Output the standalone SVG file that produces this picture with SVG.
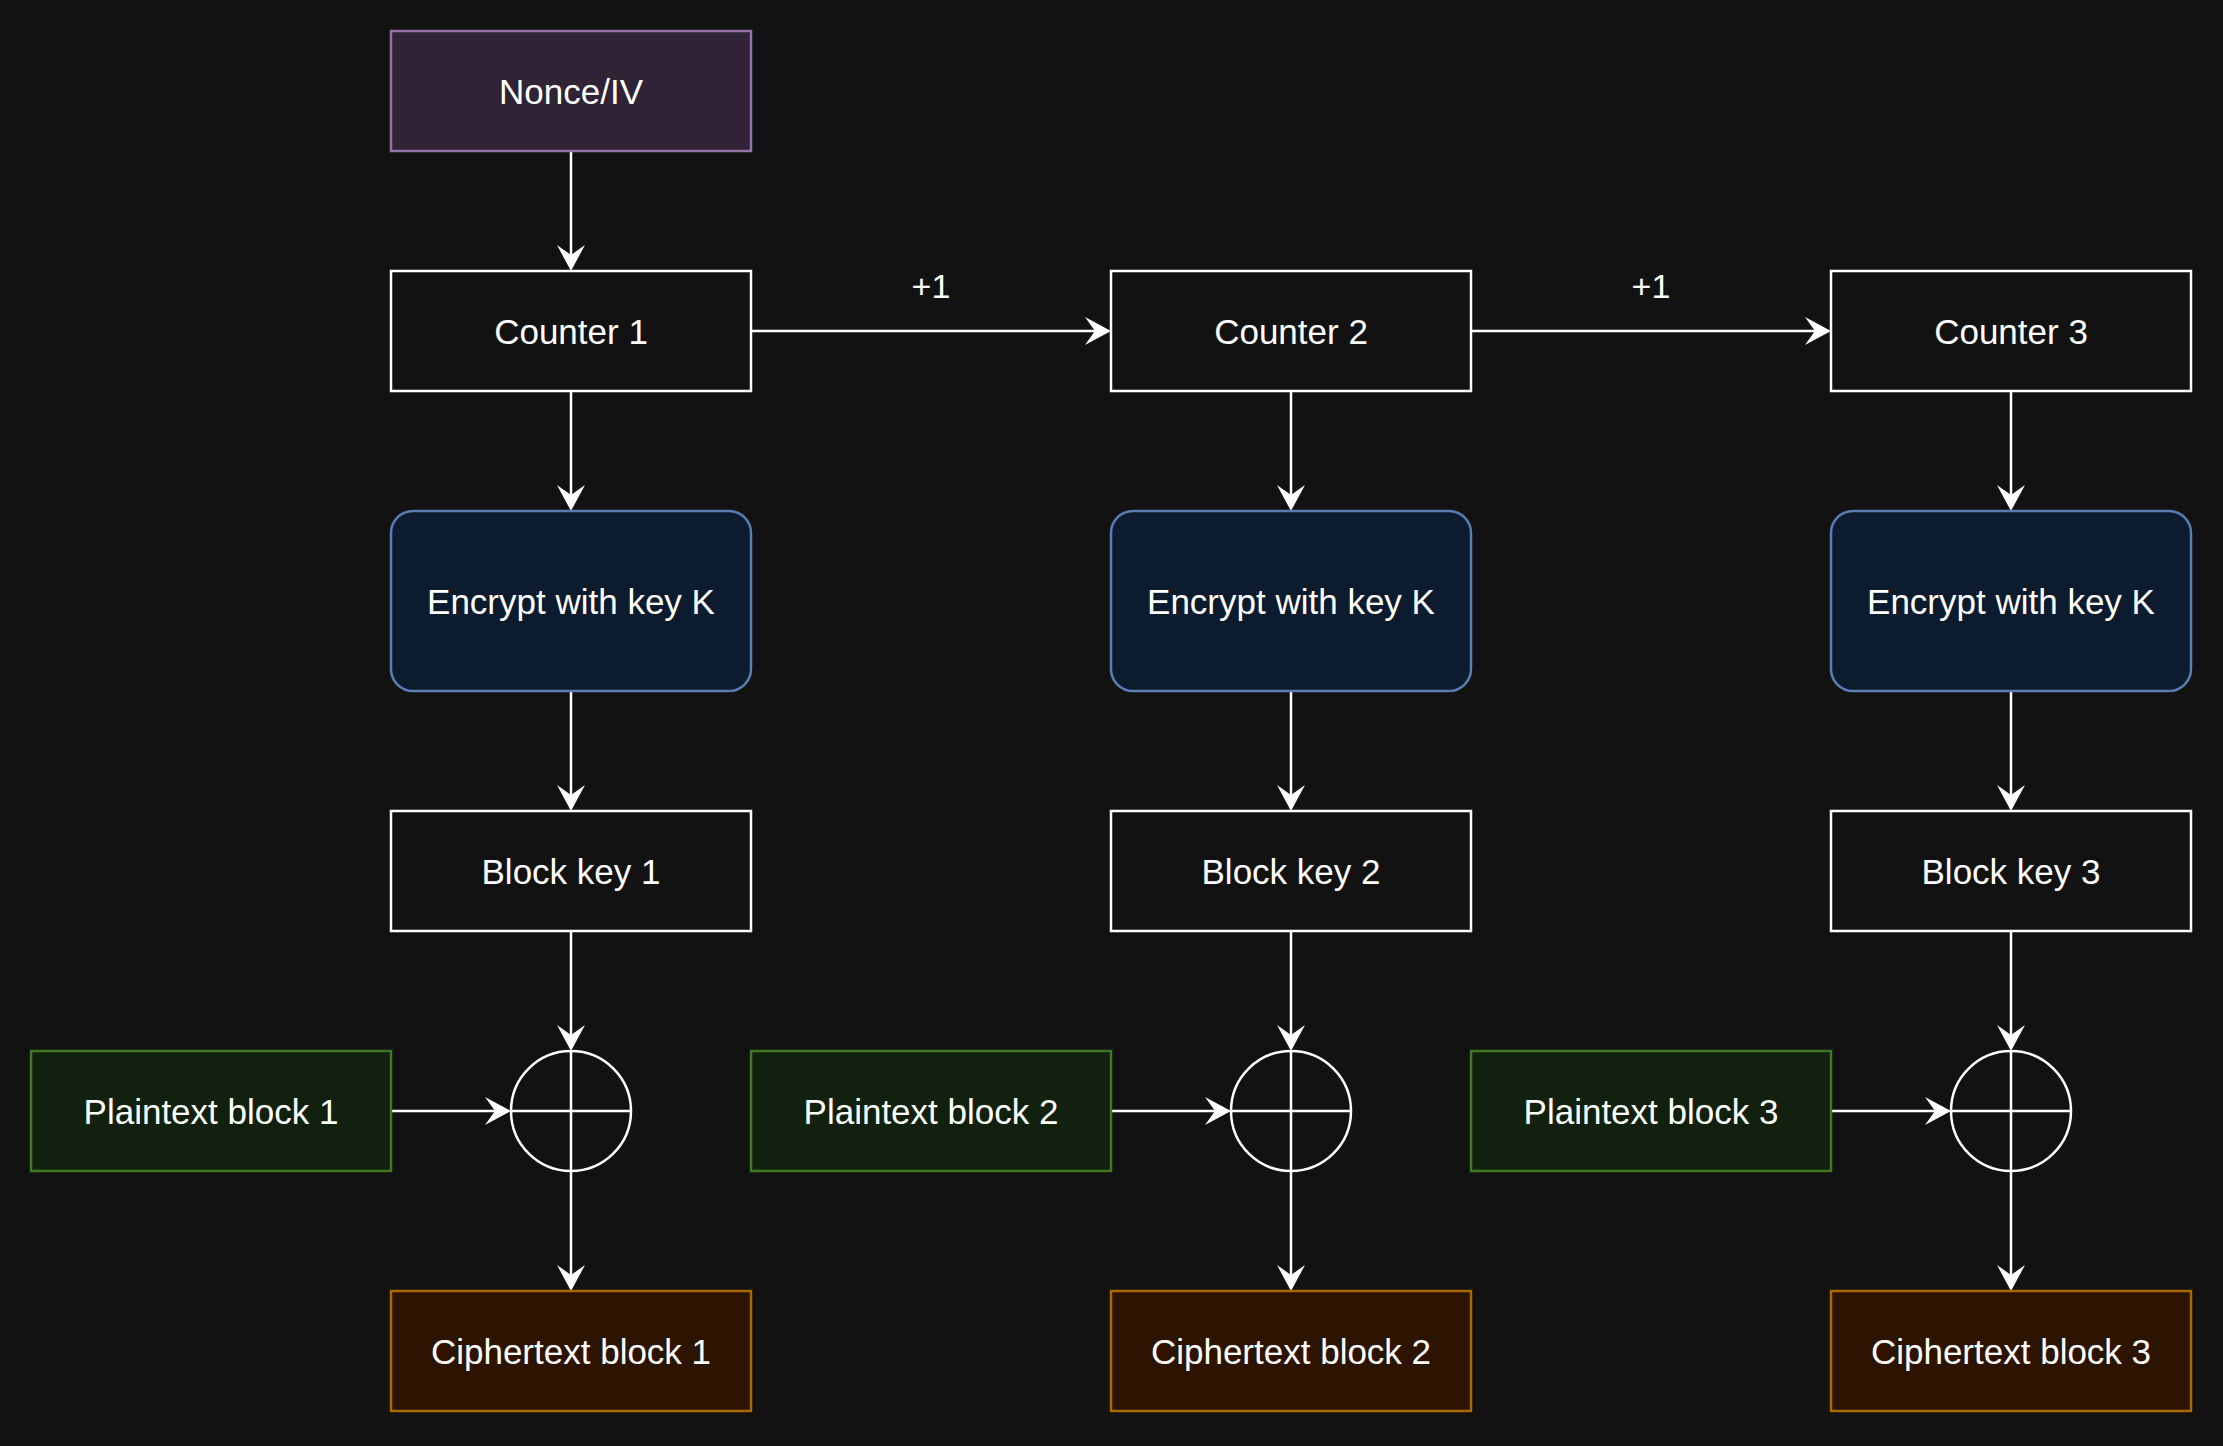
<svg xmlns="http://www.w3.org/2000/svg" width="2223" height="1446" viewBox="0 0 2223 1446">
<style>
text{font-family:"Liberation Sans",Arial,sans-serif;font-size:35px;fill:#ffffff;text-anchor:middle}
.lbl{font-size:34px}
.plain{fill:#121212;stroke:#ffffff;stroke-width:2.5}
.nonce{fill:#2f2335;stroke:#9673a6;stroke-width:2.5}
.enc{fill:#0d1b2e;stroke:#5a7db3;stroke-width:2.5}
.pt{fill:#11200f;stroke:#3f7a22;stroke-width:2.5}
.ct{fill:#2d1400;stroke:#a86a00;stroke-width:2.5}
.xor{fill:none;stroke:#ffffff;stroke-width:2.5}
.edge{fill:none;stroke:#ffffff;stroke-width:2.5;marker-end:url(#arr)}
</style>
<defs>
<marker id="arr" markerUnits="userSpaceOnUse" viewBox="-11 -15 28 30" markerWidth="28" markerHeight="30" refX="0" refY="0" orient="auto">
<path d="M16,0 L-10,-14 L0,0 L-10,14 Z" fill="#ffffff"/>
</marker>
</defs>
<rect width="2223" height="1446" fill="#121212"/>
<g id="connectors">
<path class="edge" d="M571,151 V255"/>
<path class="edge" d="M571,391 V495"/>
<path class="edge" d="M571,691 V795"/>
<path class="edge" d="M571,931 V1035"/>
<path class="edge" d="M391,1111 H495"/>
<path class="edge" d="M571,1171 V1275"/>
<path class="edge" d="M751,331 H1095"/>
<text class="lbl" x="931" y="298">+1</text>
<path class="edge" d="M1291,391 V495"/>
<path class="edge" d="M1291,691 V795"/>
<path class="edge" d="M1291,931 V1035"/>
<path class="edge" d="M1111,1111 H1215"/>
<path class="edge" d="M1291,1171 V1275"/>
<path class="edge" d="M1471,331 H1815"/>
<text class="lbl" x="1651" y="298">+1</text>
<path class="edge" d="M2011,391 V495"/>
<path class="edge" d="M2011,691 V795"/>
<path class="edge" d="M2011,931 V1035"/>
<path class="edge" d="M1831,1111 H1935"/>
<path class="edge" d="M2011,1171 V1275"/>
</g>
<g id="nonce"><rect class="nonce" x="391" y="31" width="360" height="120"/><text x="571" y="103.5">Nonce/IV</text></g>
<g id="counter1"><rect class="plain" x="391" y="271" width="360" height="120"/><text x="571" y="343.5">Counter 1</text></g>
<g id="counter2"><rect class="plain" x="1111" y="271" width="360" height="120"/><text x="1291" y="343.5">Counter 2</text></g>
<g id="counter3"><rect class="plain" x="1831" y="271" width="360" height="120"/><text x="2011" y="343.5">Counter 3</text></g>
<g id="encrypt1"><rect class="enc" x="391" y="511" width="360" height="180" rx="22" ry="22"/><text x="571" y="613.5">Encrypt with key K</text></g>
<g id="encrypt2"><rect class="enc" x="1111" y="511" width="360" height="180" rx="22" ry="22"/><text x="1291" y="613.5">Encrypt with key K</text></g>
<g id="encrypt3"><rect class="enc" x="1831" y="511" width="360" height="180" rx="22" ry="22"/><text x="2011" y="613.5">Encrypt with key K</text></g>
<g id="blockkey1"><rect class="plain" x="391" y="811" width="360" height="120"/><text x="571" y="883.5">Block key 1</text></g>
<g id="blockkey2"><rect class="plain" x="1111" y="811" width="360" height="120"/><text x="1291" y="883.5">Block key 2</text></g>
<g id="blockkey3"><rect class="plain" x="1831" y="811" width="360" height="120"/><text x="2011" y="883.5">Block key 3</text></g>
<g id="plaintext1"><rect class="pt" x="31" y="1051" width="360" height="120"/><text x="211" y="1123.5">Plaintext block 1</text></g>
<g id="plaintext2"><rect class="pt" x="751" y="1051" width="360" height="120"/><text x="931" y="1123.5">Plaintext block 2</text></g>
<g id="plaintext3"><rect class="pt" x="1471" y="1051" width="360" height="120"/><text x="1651" y="1123.5">Plaintext block 3</text></g>
<g id="xor1"><circle class="xor" cx="571" cy="1111" r="60"/><path class="xor" d="M511,1111 H631 M571,1051 V1171"/></g>
<g id="xor2"><circle class="xor" cx="1291" cy="1111" r="60"/><path class="xor" d="M1231,1111 H1351 M1291,1051 V1171"/></g>
<g id="xor3"><circle class="xor" cx="2011" cy="1111" r="60"/><path class="xor" d="M1951,1111 H2071 M2011,1051 V1171"/></g>
<g id="ciphertext1"><rect class="ct" x="391" y="1291" width="360" height="120"/><text x="571" y="1363.5">Ciphertext block 1</text></g>
<g id="ciphertext2"><rect class="ct" x="1111" y="1291" width="360" height="120"/><text x="1291" y="1363.5">Ciphertext block 2</text></g>
<g id="ciphertext3"><rect class="ct" x="1831" y="1291" width="360" height="120"/><text x="2011" y="1363.5">Ciphertext block 3</text></g>
</svg>
